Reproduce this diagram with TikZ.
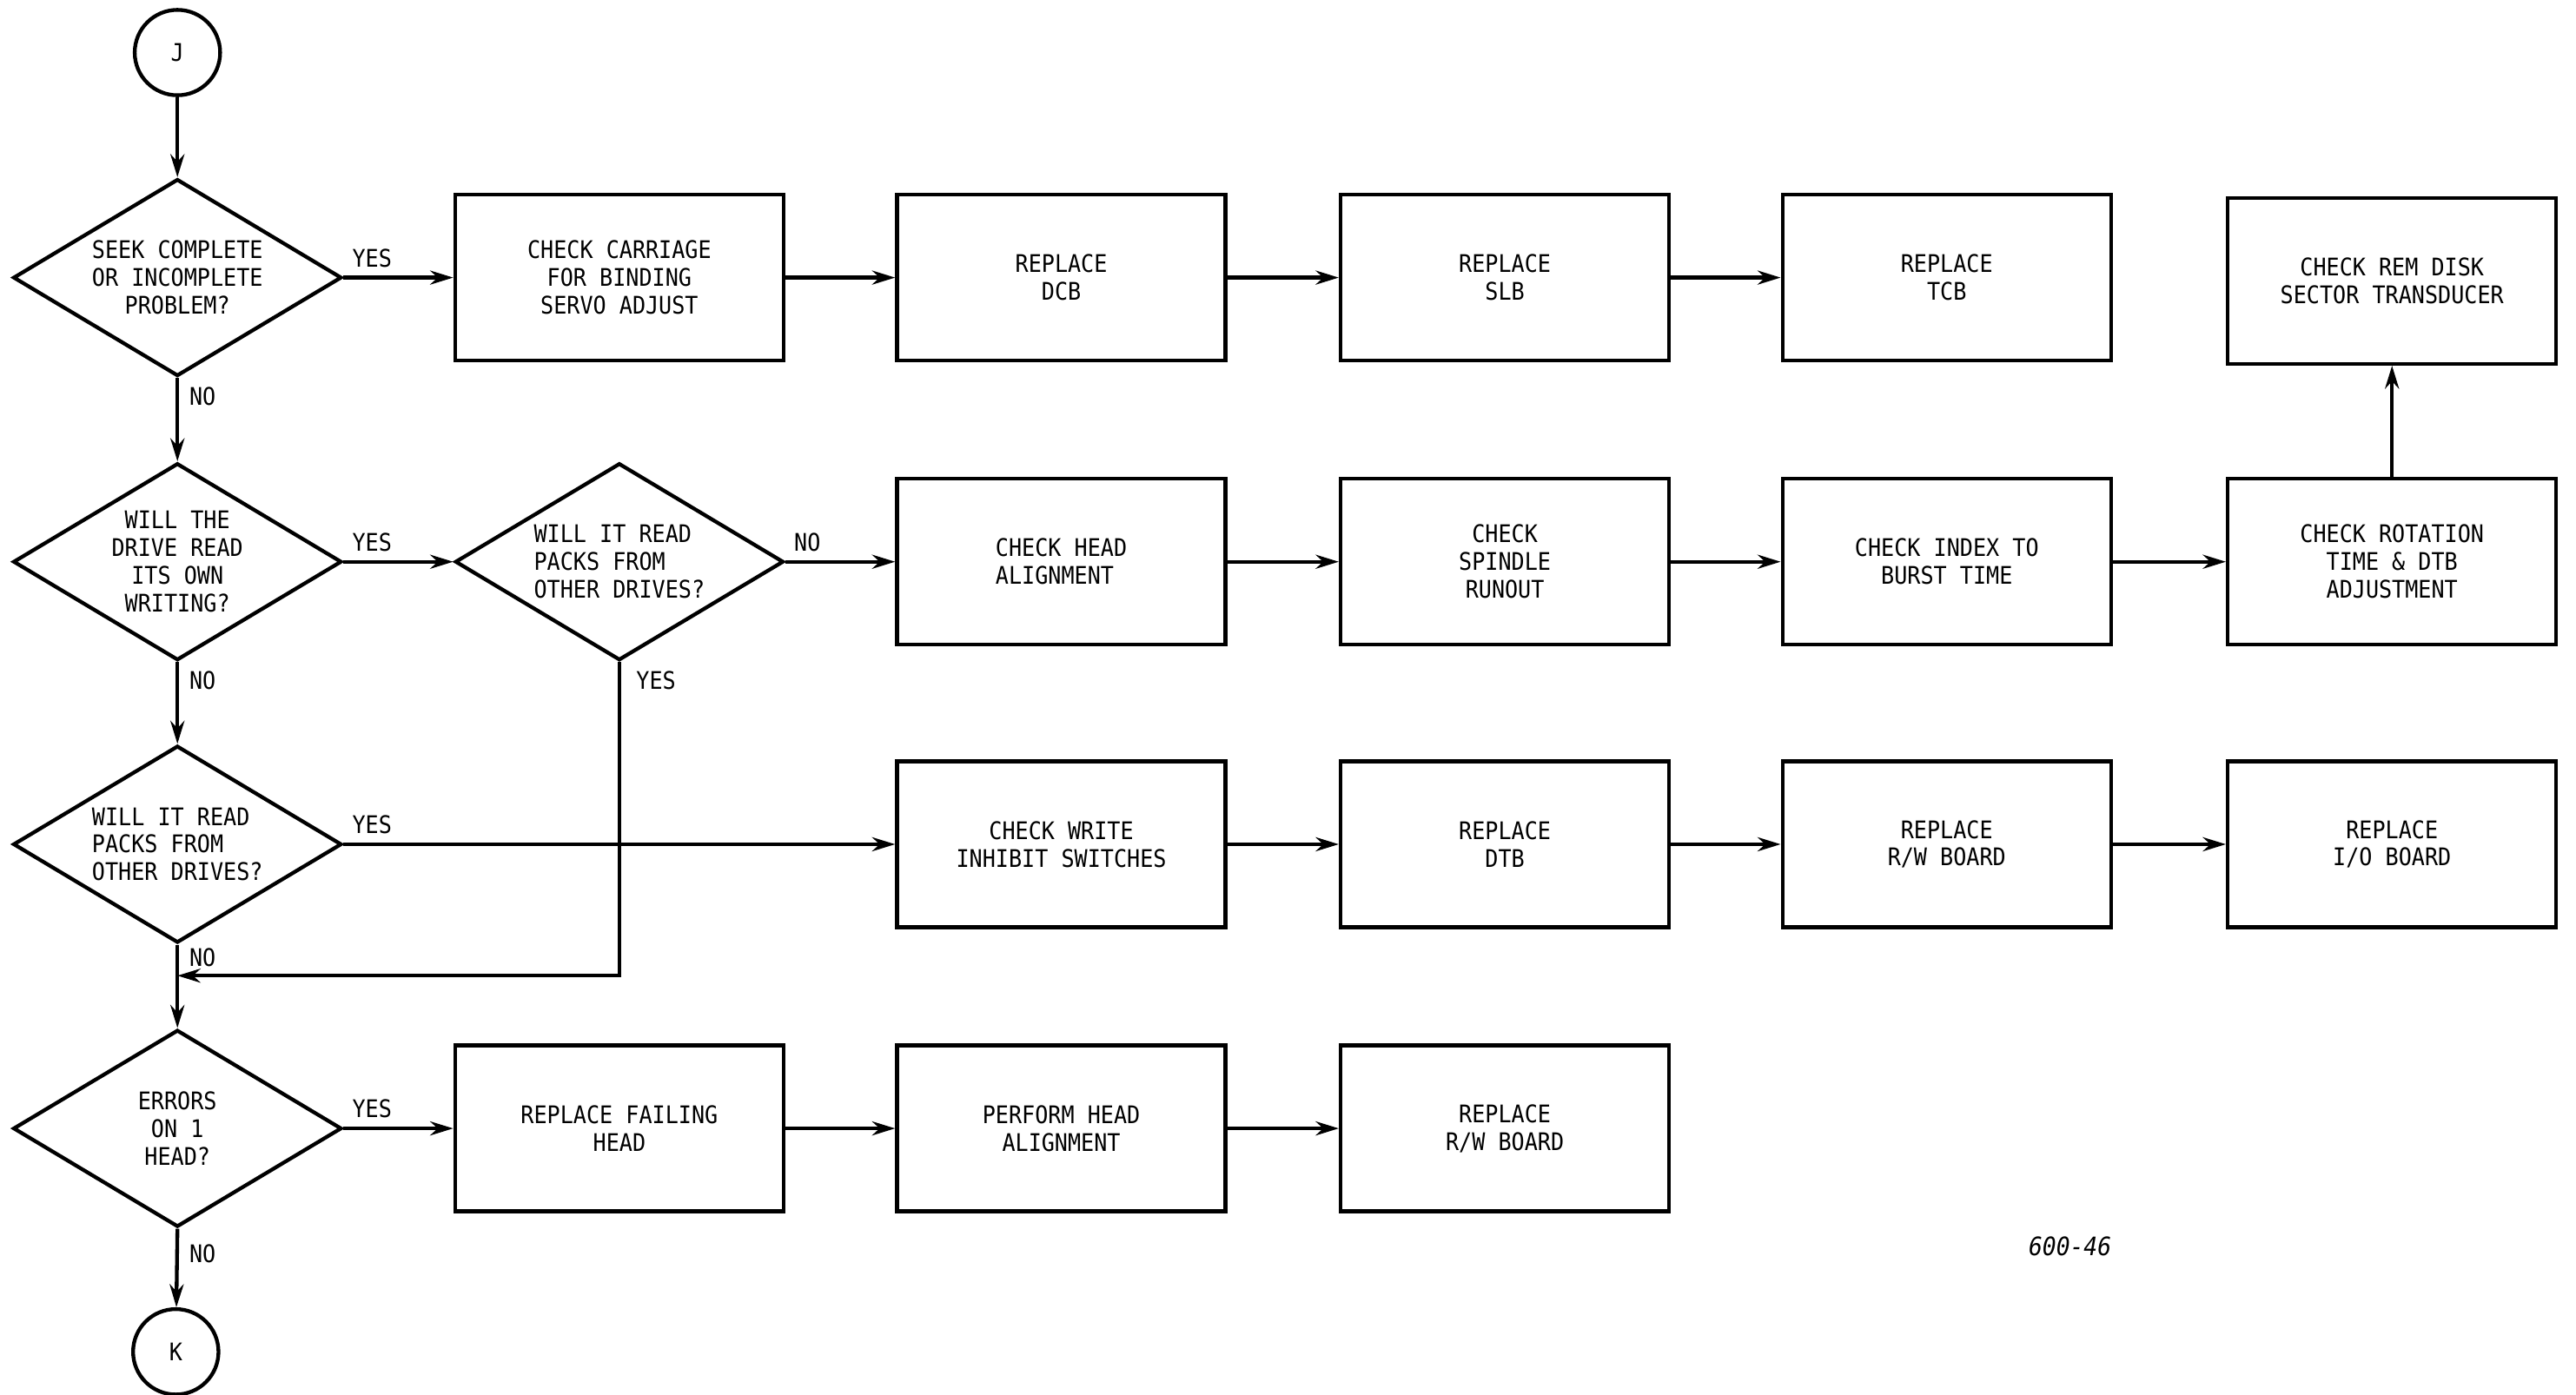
\documentclass[tikz,border=0pt]{standalone}
\usepackage{fontspec}
\setmonofont[FakeStretch=0.9]{DejaVu Sans Mono}
\usetikzlibrary{shapes.geometric,arrows.meta}
\begin{document}
\begin{tikzpicture}[x=0.02cm,y=-0.02cm,
  every node/.style={font=\ttfamily\fontsize{8.4}{9.6}\selectfont},
  pbox/.style={draw,line width=1.3pt,minimum width=4cm,minimum height=2.02cm,align=center,inner sep=0pt},
  dec/.style={draw,diamond,line width=1.3pt,minimum width=4cm,minimum height=2.4cm,aspect=1.667,align=center,inner sep=0pt},
  conn/.style={draw,circle,line width=1.3pt,minimum size=1.04cm,inner sep=0pt},
  flow/.style={line width=1.3pt,-{Stealth[length=2.8mm,width=1.7mm]}},
  yeslbl/.style={anchor=south west,inner sep=0pt,xshift=0.1cm,yshift=0.12cm},
  nolbl/.style={anchor=north west,inner sep=0pt,xshift=0.14cm,yshift=-0.1cm}]

\useasboundingbox (0,0) rectangle (1568,849);

% connectors J, K
\node[conn] (J) at (108,32) {J};
\node[conn] (K) at (107,823) {K};

% row 1
\node[dec] (d1) at (108,169) {SEEK COMPLETE\\OR INCOMPLETE\\PROBLEM?};
\node[pbox] (b11) at (377,169) {CHECK CARRIAGE\\FOR BINDING\\SERVO ADJUST};
\node[pbox] (b12) at (646,169) {REPLACE\\DCB};
\node[pbox] (b13) at (916,169) {REPLACE\\SLB};
\node[pbox] (b14) at (1185,169) {REPLACE\\TCB};
\node[pbox] (b15) at (1456,171) {CHECK REM DISK\\SECTOR TRANSDUCER};

% row 2
\node[dec] (d2) at (108,342) {WILL THE\\DRIVE READ\\ITS OWN\\WRITING?};
\node[dec,align=left] (d3) at (377,342) {WILL IT READ\\PACKS FROM\\OTHER DRIVES?};
\node[pbox,align=left] (b21) at (646,342) {CHECK HEAD\\ALIGNMENT};
\node[pbox] (b22) at (916,342) {CHECK\\SPINDLE\\RUNOUT};
\node[pbox] (b23) at (1185,342) {CHECK INDEX TO\\BURST TIME};
\node[pbox] (b24) at (1456,342) {CHECK ROTATION\\TIME \& DTB\\ADJUSTMENT};

% row 3
\node[dec,align=left] (d4) at (108,514) {WILL IT READ\\PACKS FROM\\OTHER DRIVES?};
\node[pbox] (b31) at (646,514) {CHECK WRITE\\INHIBIT SWITCHES};
\node[pbox] (b32) at (916,514) {REPLACE\\DTB};
\node[pbox] (b33) at (1185,514) {REPLACE\\R/W BOARD};
\node[pbox] (b34) at (1456,514) {REPLACE\\I/O BOARD};

% row 4
\node[dec] (d5) at (108,687) {ERRORS\\ON 1\\HEAD?};
\node[pbox] (b41) at (377,687) {REPLACE FAILING\\HEAD};
\node[pbox] (b42) at (646,687) {PERFORM HEAD\\ALIGNMENT};
\node[pbox] (b43) at (916,687) {REPLACE\\R/W BOARD};

\coordinate (m) at (108,594);

% flow lines
\draw[flow] (J) -- (d1);
\draw[flow] (d1.east) -- (b11.west);
\draw[flow] (b11.east) -- (b12.west);
\draw[flow] (b12.east) -- (b13.west);
\draw[flow] (b13.east) -- (b14.west);
\draw[flow] (d1.south) -- (d2.north);
\draw[flow] (d2.east) -- (d3.west);
\draw[flow] (d3.east) -- (b21.west);
\draw[flow] (b21.east) -- (b22.west);
\draw[flow] (b22.east) -- (b23.west);
\draw[flow] (b23.east) -- (b24.west);
\draw[flow] (b24.north) -- (b15.south);
\draw[flow] (d2.south) -- (d4.north);
\draw[flow] (d4.east) -- (b31.west);
\draw[flow] (b31.east) -- (b32.west);
\draw[flow] (b32.east) -- (b33.west);
\draw[flow] (b33.east) -- (b34.west);
\draw[flow] (d3.south) |- (m);
\draw[flow] (d4.south) -- (d5.north);
\draw[flow] (d5.east) -- (b41.west);
\draw[flow] (b41.east) -- (b42.west);
\draw[flow] (b42.east) -- (b43.west);
\draw[flow] (d5.south) -- (K);

% labels
\node[yeslbl] (y1) at (d1.east) {YES};
\node[nolbl] (n1) at (d1.south) {NO};
\node[yeslbl] (y2) at (d2.east) {YES};
\node[nolbl] (n2) at (d2.south) {NO};
\node[yeslbl] (n3) at (d3.east) {NO};
\node[nolbl,xshift=0.06cm] (y3) at (d3.south) {YES};
\node[yeslbl] (y4) at (d4.east) {YES};
\node[nolbl,yshift=0.06cm] (n4) at (d4.south) {NO};
\node[yeslbl] (y5) at (d5.east) {YES};
\node[nolbl,yshift=-0.08cm] (n5) at (d5.south) {NO};

\node[font=\ttfamily\itshape\fontsize{8.8}{10}\selectfont] (fig) at (1260,759) {600-46};
\end{tikzpicture}
\end{document}
